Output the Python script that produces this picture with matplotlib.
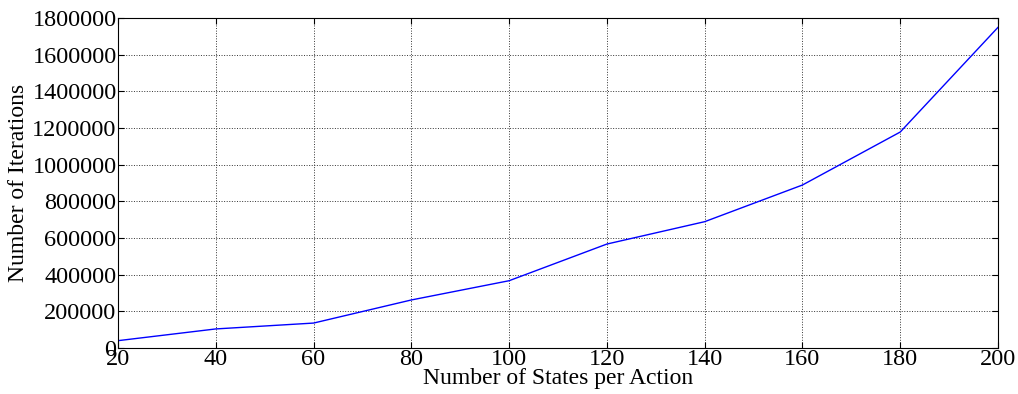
import matplotlib
matplotlib.use("Agg")
import matplotlib.pyplot as plt

# data
states = [20, 40, 60, 80, 100, 120, 140, 160, 180, 200]
iterations = [40000, 104000, 136000, 262000, 367000, 567000, 689000, 889000, 1178000, 1749000]

x_ticks = [20, 40, 60, 80, 100, 120, 140, 160, 180, 200]
y_ticks = [0, 200000, 400000, 600000, 800000, 1000000, 1200000, 1400000, 1600000, 1800000]

plt.rcParams['font.family'] = ['Liberation Serif', 'DejaVu Serif']
plt.rcParams['xtick.direction'] = 'in'
plt.rcParams['ytick.direction'] = 'in'

fig = plt.figure(figsize=(10.18, 3.94), dpi=100)
ax = fig.add_axes([118/1018, 46/394, 880/1018, 330/394])

ax.plot(states, iterations, color='#0000ff', linewidth=1.0)

ax.set_xlim(20, 200)
ax.set_ylim(0, 1800000)
ax.set_xticks(x_ticks)
ax.set_yticks(y_ticks)
ax.set_xticklabels([str(v) for v in x_ticks])
ax.set_yticklabels([str(v) for v in y_ticks])
ax.tick_params(labelsize=17.5, top=True, right=True, length=4, width=0.8, pad=1)

ax.grid(True, color='#333333', linestyle=':', linewidth=0.7)

ax.set_xlabel("Number of States per Action", fontsize=17, labelpad=-2)
ax.set_ylabel("Number of Iterations", fontsize=17, labelpad=2)

fig.savefig("out.png", dpi=100)
